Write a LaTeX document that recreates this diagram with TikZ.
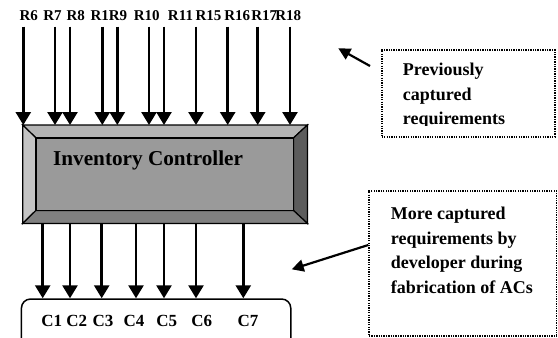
\documentclass[tikz,border=0pt]{standalone}
\usepackage{fontspec}
\setmainfont{Liberation Serif}
\usetikzlibrary{arrows.meta}
\definecolor{bvtop}{HTML}{B4B4B4}
\definecolor{bvleft}{HTML}{C4C4C4}
\definecolor{bvright}{HTML}{5C5C5C}
\definecolor{bvbottom}{HTML}{808080}
\definecolor{bvface}{HTML}{9A9A9A}
\tikzset{
  bigarr/.style={line width=2.6pt, -{Triangle[width=15pt,length=13pt]}},
  ptarr/.style={line width=2.2pt, -{Triangle[width=12pt,length=12pt]}},
  rlab/.style={font=\fontsize{15}{18}\selectfont\bfseries, inner sep=0pt, anchor=base},
  clab/.style={font=\fontsize{17}{20}\selectfont\bfseries, inner sep=0pt, anchor=base},
  notetext/.style={font=\fontsize{18}{22}\selectfont\bfseries, inner sep=0pt, anchor=base west},
  dotbox/.style={draw, line width=1.5pt, dash pattern=on 1.3pt off 1.1pt, inner sep=0pt, anchor=north west},
  bevel/.style={draw=black, line width=1.2pt, line join=miter},
}
\begin{document}
\begin{tikzpicture}[x=1pt,y=-1pt]
\useasboundingbox (0,0) rectangle (558,338);
\begin{scope}
\clip (0,0) rectangle (558,338);

% Inventory controller block
\node[minimum width=284.3pt, minimum height=98pt, inner sep=0pt, anchor=north west] (ic) at (22.7,125) {};
\coordinate (inw) at ([shift={(13.3,13)}]ic.north west);
\coordinate (ine) at ([shift={(-14,13)}]ic.north east);
\coordinate (isw) at ([shift={(13.3,-13)}]ic.south west);
\coordinate (ise) at ([shift={(-14,-13)}]ic.south east);
\filldraw[bevel, fill=bvtop] (ic.north west) -- (ic.north east) -- (ine) -- (inw) -- cycle;
\filldraw[bevel, fill=bvleft] (ic.north west) -- (inw) -- (isw) -- (ic.south west) -- cycle;
\filldraw[bevel, fill=bvright] (ic.north east) -- (ic.south east) -- (ise) -- (ine) -- cycle;
\filldraw[bevel, fill=bvbottom] (ic.south west) -- (isw) -- (ise) -- (ic.south east) -- cycle;
\filldraw[bevel, fill=bvface] (inw) rectangle (ise);
\node[font=\fontsize{21.2}{25}\selectfont\bfseries, inner sep=0pt, anchor=base west] (iclabel) at (53,165) {Inventory Controller};

% requirement labels
\node[rlab] (r6) at (28.7,20.7) {R6};
\node[rlab] (r7) at (52.5,20.7) {R7};
\node[rlab] (r8) at (75.8,20.7) {R8};
\node[rlab] (r1) at (99.7,20.7) {R1};
\node[rlab] (r9) at (118,20.7) {R9};
\node[rlab] (r10) at (146.7,20.7) {R10};
\node[rlab] (r11) at (180.5,20.7) {R11};
\node[rlab] (r15) at (208.5,20.7) {R15};
\node[rlab] (r16) at (237.2,20.7) {R16};
\node[rlab] (r17) at (264.2,20.7) {R17};
\node[rlab] (r18) at (288.3,20.7) {R18};

% input arrows
\foreach \n/\x in {a1/23.3, a2/55, a3/70, a4/102.3, a5/117.3, a6/149, a7/164, a8/196, a9/227.7, a10/257.7, a11/290} {
  \coordinate (\n) at (\x,26.7);
  \draw[bigarr] (\n) -- (\n |- ic.north);
}

% output box
\node[draw, line width=1.5pt, rounded corners=9pt, minimum width=269.3pt, minimum height=55pt, inner sep=0pt, anchor=north west] (out) at (20.7,298.3) {};
\node[clab] (c1) at (51.7,326.7) {C1};
\node[clab] (c2) at (76.7,326.7) {C2};
\node[clab] (c3) at (103,326.7) {C3};
\node[clab] (c4) at (134,326.7) {C4};
\node[clab] (c5) at (166.7,326.7) {C5};
\node[clab] (c6) at (201.7,326.7) {C6};
\node[clab] (c7) at (248,326.7) {C7};

% output arrows
\foreach \n/\x in {b1/42.7, b2/70, b3/101.7, b4/136, b5/164, b6/196, b7/243.3} {
  \coordinate (\n) at (\x,0);
  \draw[bigarr] (\n |- ic.south) -- (\n |- out.north);
}

% note 1
\node[dotbox, minimum width=173pt, minimum height=87pt] (note1) at (381,49) {};
\node[notetext] (n1a) at (402.7,75.5) {Previously};
\node[notetext] (n1b) at (402.7,100) {captured};
\begin{scope}
\clip (381,49) rectangle (555,125);
\node[notetext] (n1c) at (402.7,124.3) {requirements};
\end{scope}
\coordinate (p1tail) at (370,66);
\coordinate (p1tip) at (338.3,48.3);
\draw[ptarr] (p1tail) -- (p1tip);

% note 2
\node[dotbox, minimum width=187.2pt, minimum height=145pt] (note2) at (368.3,190) {};
\node[notetext] (n2a) at (390.7,219.5) {More captured};
\node[notetext] (n2b) at (390.7,244) {requirements by};
\node[notetext] (n2c) at (390.7,268.5) {developer during};
\node[notetext] (n2d) at (390.7,293) {fabrication of ACs};
\coordinate (p2tip) at (291.7,269.3);
\draw[ptarr] (note2.west |- 0,245) -- (p2tip);
\end{scope}
\end{tikzpicture}
\end{document}
